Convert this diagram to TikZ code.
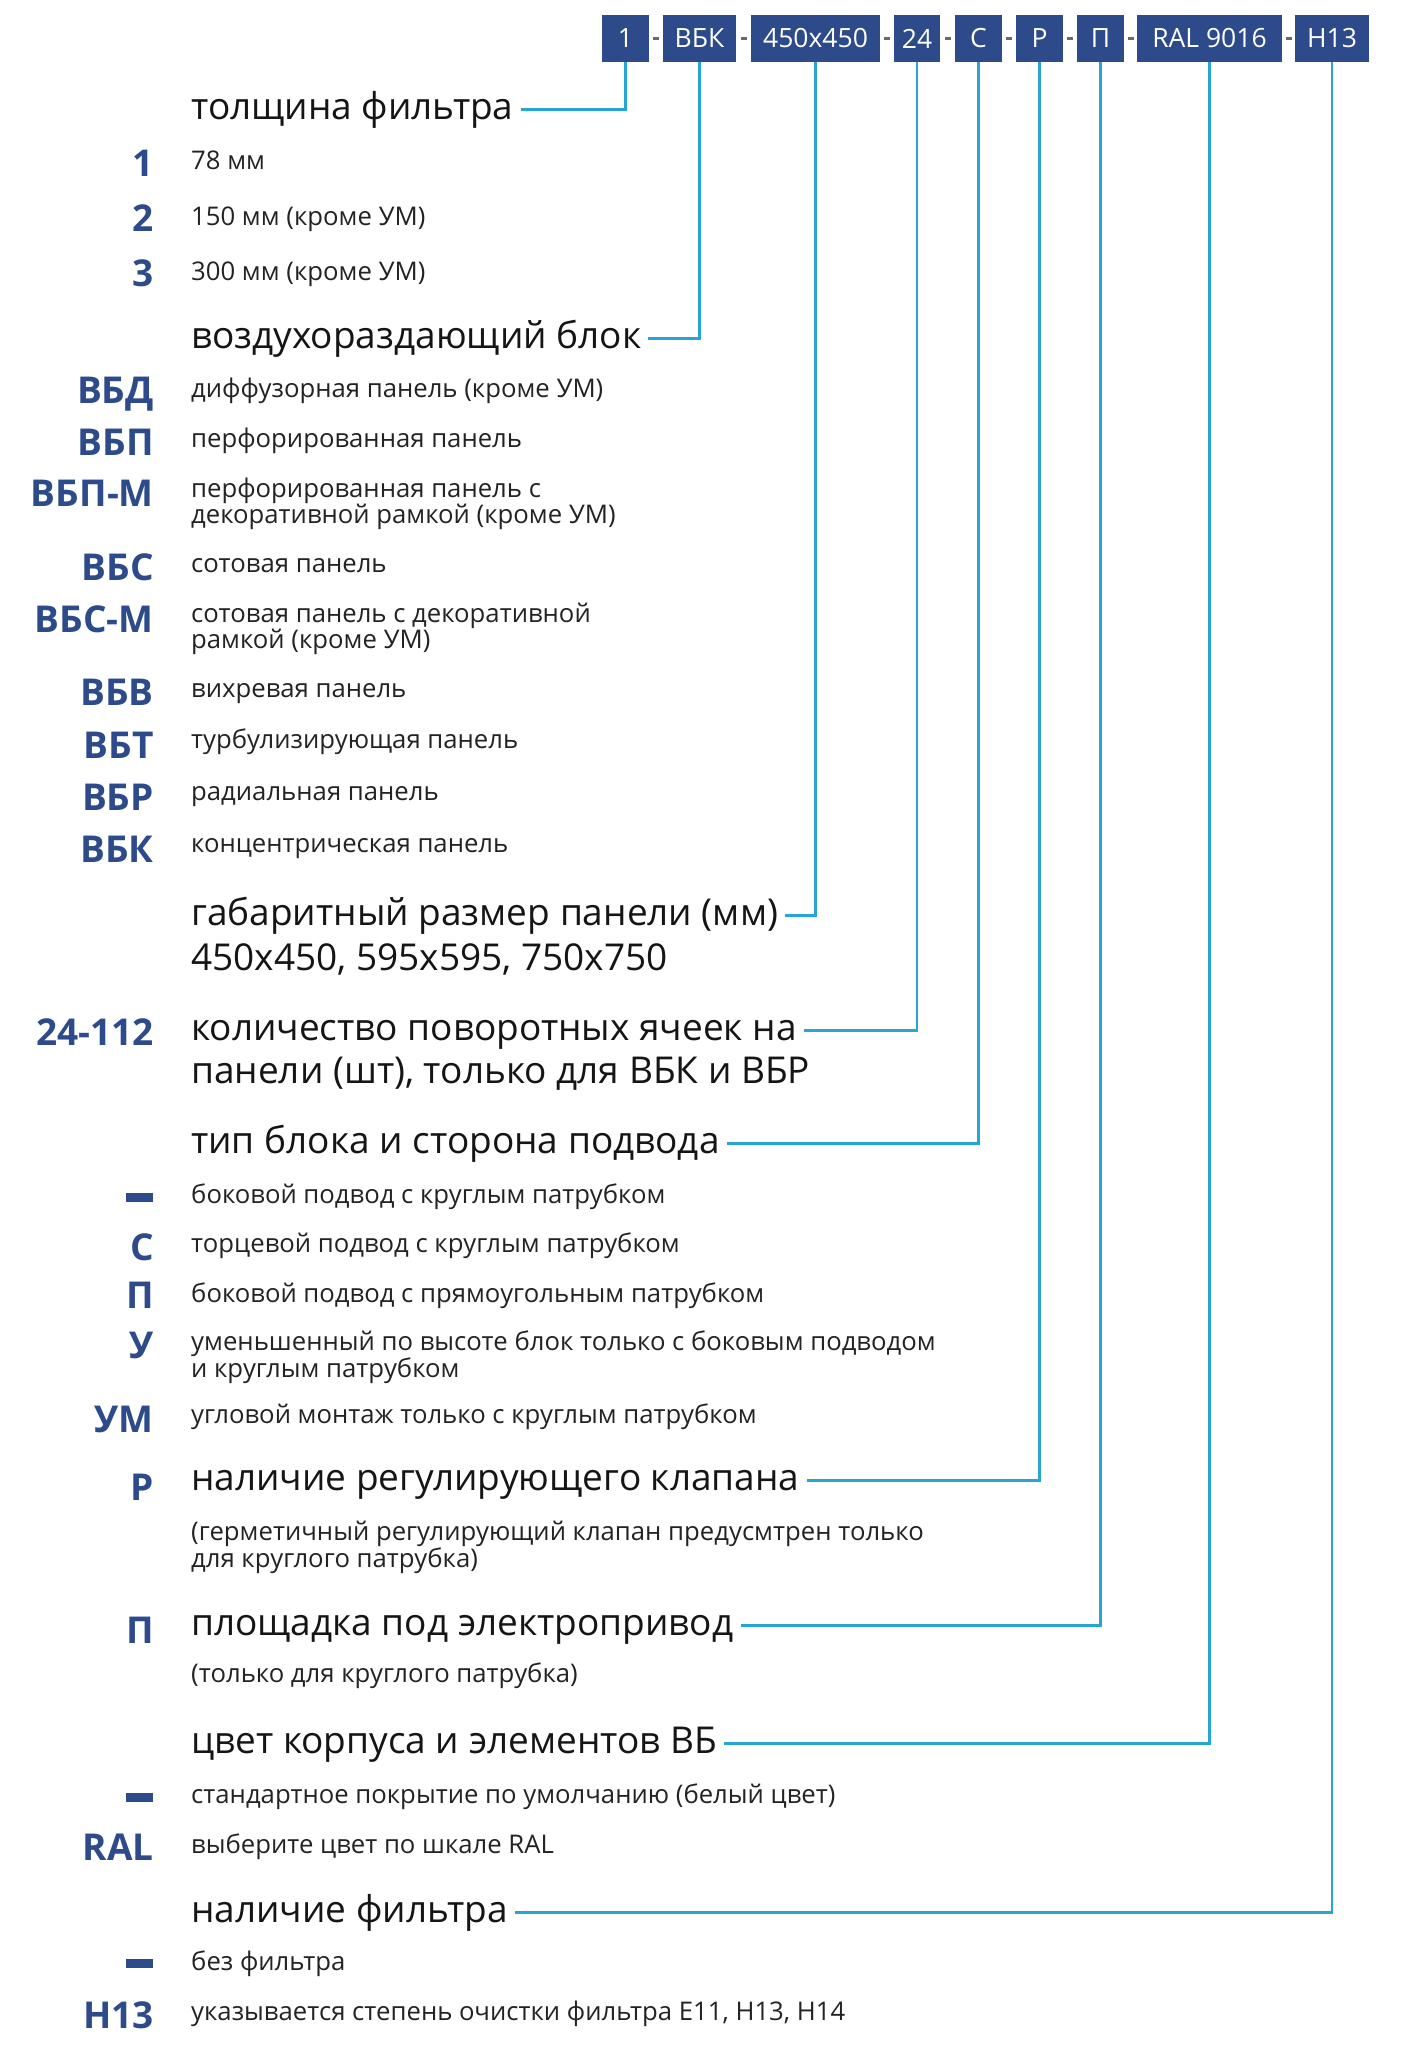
\documentclass[tikz,border=0pt]{standalone}
\usepackage{fontspec}
\setmainfont{Open Sans}
\definecolor{navy}{HTML}{2D4A8A}
\definecolor{cyanl}{HTML}{27A6D6}
\definecolor{headc}{HTML}{151515}
\definecolor{descc}{HTML}{232323}
\definecolor{dashc}{HTML}{6A6A6A}
\tikzset{
  box/.style={fill=navy, text=white, font=\fontsize{26.5}{27}\selectfont, minimum height=47pt, inner sep=0pt},
  sep/.style={fill=dashc, minimum width=6pt, minimum height=3.5pt, inner sep=0pt},
  head/.style={anchor=base west, font=\fontsize{37}{40}\selectfont, text=headc, inner xsep=7pt, inner ysep=0pt, text height=27pt, text depth=8pt},
  desc/.style={anchor=base west, font=\fontsize{25.7}{30}\selectfont, text=descc, inner sep=0pt},
  code/.style={anchor=base east, font=\fontsize{37}{40}\selectfont\bfseries, text=navy, inner sep=0pt},
  bar/.style={fill=navy, minimum width=27pt, minimum height=9pt, inner sep=0pt},
  link/.style={draw=cyanl, line width=2.6pt},
}
\begin{document}
\begin{tikzpicture}[x=1pt,y=-1pt]
\useasboundingbox[fill=white] (0,0) rectangle (1411,2048);

% header boxes
\node[box, minimum width=47pt]  (b1) at (625.5,38.5) {1};
\node[box, minimum width=73pt]  (b2) at (699.5,38.5) {ВБК};
\node[box, minimum width=129pt] (b3) at (815.5,38.5) {450x450};
\node[box, minimum width=46pt]  (b4) at (917,38.5) {24};
\node[box, minimum width=47pt]  (b5) at (978.5,38.5) {С};
\node[box, minimum width=47pt]  (b6) at (1039.5,38.5) {Р};
\node[box, minimum width=47pt]  (b7) at (1100.5,38.5) {П};
\node[box, minimum width=145pt] (b8) at (1209.5,38.5) {RAL 9016};
\node[box, minimum width=74pt]  (b9) at (1332,38.5) {H13};
\node[sep] (s1) at (656,38.5) {};
\node[sep] (s2) at (743.5,38.5) {};
\node[sep] (s3) at (887,38.5) {};
\node[sep] (s4) at (947.5,38.5) {};
\node[sep] (s5) at (1009,38.5) {};
\node[sep] (s6) at (1070,38.5) {};
\node[sep] (s7) at (1130.5,38.5) {};
\node[sep] (s8) at (1288.5,38.5) {};

% section 1
\node[head] (h1) at (184,119) {толщина фильтра};
\node[code] (c11) at (154,176) {1};
\node[desc] (d11) at (191,169) {78 мм};
\node[code] (c12) at (154,231) {2};
\node[desc] (d12) at (191,225) {150 мм (кроме УМ)};
\node[code] (c13) at (154,286) {3};
\node[desc] (d13) at (191,280) {300 мм (кроме УМ)};

% section 2
\node[head] (h2) at (184,348) {воздухораздающий блок};
\node[code] (c21) at (154,403) {ВБД};
\node[desc] (d21) at (191,397) {диффузорная панель (кроме УМ)};
\node[code] (c22) at (154,455) {ВБП};
\node[desc] (d22) at (191,447) {перфорированная панель};
\node[code] (c23) at (154,506) {ВБП-М};
\node[desc] (d23) at (191,497) {перфорированная панель с};
\node[desc] (d23b) at (191,523) {декоративной рамкой (кроме УМ)};
\node[code] (c24) at (154,580) {ВБС};
\node[desc] (d24) at (191,572) {сотовая панель};
\node[code] (c25) at (154,632) {ВБС-М};
\node[desc] (d25) at (191,622) {сотовая панель с декоративной};
\node[desc] (d25b) at (191,648) {рамкой (кроме УМ)};
\node[code] (c26) at (154,705) {ВБВ};
\node[desc] (d26) at (191,697) {вихревая панель};
\node[code] (c27) at (154,758) {ВБТ};
\node[desc] (d27) at (191,748) {турбулизирующая панель};
\node[code] (c28) at (154,810) {ВБР};
\node[desc] (d28) at (191,800) {радиальная панель};
\node[code] (c29) at (154,862) {ВБК};
\node[desc] (d29) at (191,852) {концентрическая панель};

% section 3
\node[head] (h3) at (184,925) {габаритный размер панели (мм)};
\node[head] (h3b) at (184,970) {450x450, 595x595, 750x750};

% section 4
\node[code] (c41) at (154,1045) {24-112};
\node[head] (h4) at (184,1040) {количество поворотных ячеек на};
\node[head] (h4b) at (184,1083) {панели (шт), только для ВБК и ВБР};

% section 5
\node[head] (h5) at (184,1153) {тип блока и сторона подвода};
\node[bar] (c51) at (139.5,1197) {};
\node[desc] (d51) at (191,1203) {боковой подвод с круглым патрубком};
\node[code] (c52) at (154,1260) {С};
\node[desc] (d52) at (191,1252) {торцевой подвод с круглым патрубком};
\node[code] (c53) at (154,1308) {П};
\node[desc] (d53) at (191,1302) {боковой подвод с прямоугольным патрубком};
\node[code] (c54) at (154,1358) {У};
\node[desc] (d54) at (191,1350) {уменьшенный по высоте блок только с боковым подводом};
\node[desc] (d54b) at (191,1377) {и круглым патрубком};
\node[code] (c55) at (154,1432) {УМ};
\node[desc] (d55) at (191,1423) {угловой монтаж только с круглым патрубком};

% section 6
\node[code] (c61) at (154,1500) {Р};
\node[head] (h6) at (184,1490) {наличие регулирующего клапана};
\node[desc] (d61) at (191,1540) {(герметичный регулирующий клапан предусмтрен только};
\node[desc] (d61b) at (191,1567) {для круглого патрубка)};

% section 7
\node[code] (c71) at (154,1643) {П};
\node[head] (h7) at (184,1635) {площадка под электропривод};
\node[desc] (d71) at (191,1682) {(только для круглого патрубка)};

% section 8
\node[head] (h8) at (184,1753) {цвет корпуса и элементов ВБ};
\node[bar] (c81) at (139.5,1797) {};
\node[desc] (d81) at (191,1803) {стандартное покрытие по умолчанию (белый цвет)};
\node[code] (c82) at (154,1860) {RAL};
\node[desc] (d82) at (191,1853) {выберите цвет по шкале RAL};

% section 9
\node[head] (h9) at (184,1922) {наличие фильтра};
\node[bar] (c91) at (139.5,1963) {};
\node[desc] (d91) at (191,1970) {без фильтра};
\node[code] (c92) at (154,2028) {H13};
\node[desc] (d92) at (191,2020) {указывается степень очистки фильтра E11, H13, H14};

% connectors
\draw[link] (h1.east) -| (b1.south);
\draw[link] (h2.east) -| (b2.south);
\draw[link] (h3.east) -| (b3.south);
\draw[link] (h4.east) -| (b4.south);
\draw[link] (h5.east) -| (b5.south);
\draw[link] (h6.east) -| (b6.south);
\draw[link] (h7.east) -| (b7.south);
\draw[link] (h8.east) -| (b8.south);
\draw[link] (h9.east) -| (b9.south);
\end{tikzpicture}
\end{document}
